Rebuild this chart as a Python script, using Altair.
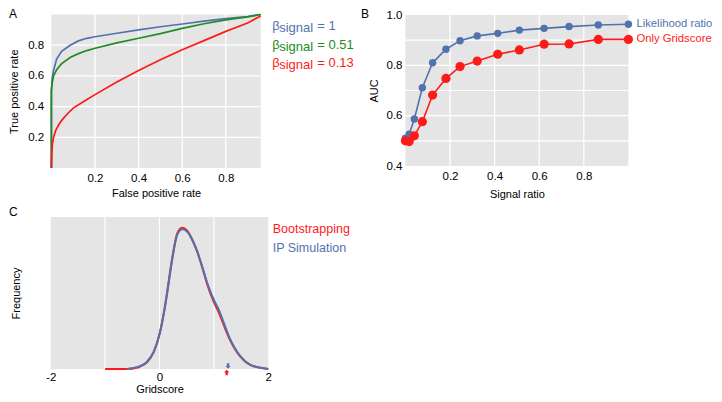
import altair as alt
import pandas as pd

FONT = "Liberation Sans"
BLUE = "#5272AE"
GREEN = "#228B22"
RED = "#FF1A1A"
BG = "#E5E5E5"

# ---------------- Panel A : ROC curves ----------------
roc_fpr_1 = [0, 0, 0.003, 0.009, 0.024, 0.047, 0.086, 0.124, 0.162, 0.2, 0.3, 0.4, 0.5, 0.6, 0.7, 0.8, 0.9, 0.96]
roc_tpr_1 = [0, 0.5, 0.58, 0.63, 0.71, 0.76, 0.80, 0.828, 0.845, 0.855, 0.878, 0.9, 0.92, 0.938, 0.957, 0.973, 0.987, 1.0]
roc_fpr_051 = [0, 0, 0.003, 0.01, 0.024, 0.047, 0.086, 0.124, 0.162, 0.2, 0.3, 0.4, 0.5, 0.6, 0.7, 0.8, 0.9, 0.96]
roc_tpr_051 = [0, 0.5, 0.55, 0.6, 0.64, 0.68, 0.72, 0.745, 0.765, 0.78, 0.815, 0.845, 0.875, 0.91, 0.94, 0.965, 0.985, 1.0]
roc_fpr_013 = [0, 0.002, 0.005, 0.01, 0.02, 0.035, 0.05, 0.075, 0.1, 0.15, 0.2, 0.3, 0.4, 0.5, 0.6, 0.7, 0.8, 0.9, 0.96]
roc_tpr_013 = [0, 0.1, 0.16, 0.2, 0.245, 0.285, 0.315, 0.355, 0.39, 0.435, 0.478, 0.56, 0.635, 0.705, 0.77, 0.83, 0.89, 0.945, 0.99]
roc_beta = ["1", "0.51", "0.13"]
roc_colors = [BLUE, GREEN, RED]
roc_ticks = [0.2, 0.4, 0.6, 0.8]
roc_xdomain = [0, 0.96]
roc_ydomain = [0, 1]

# ---------------- Panel B : AUC vs signal ratio ----------------
signal_ratio = [0, 0.017, 0.04, 0.076, 0.122, 0.182, 0.245, 0.322, 0.414, 0.511, 0.622, 0.734, 0.865, 1.0]
auc_likelihood = [0.51, 0.526, 0.587, 0.711, 0.81, 0.864, 0.898, 0.917, 0.927, 0.94, 0.947, 0.954, 0.96, 0.963]
auc_gridscore = [0.50, 0.497, 0.52, 0.576, 0.682, 0.748, 0.795, 0.817, 0.844, 0.861, 0.884, 0.885, 0.903, 0.903]
auc_names = ["Likelihood ratio", "Only Gridscore"]
auc_xticks = [0.2, 0.4, 0.6, 0.8]
auc_yticks = [0.4, 0.6, 0.8, 1.0]
auc_ygrid = [0.5, 0.6, 0.7, 0.8, 0.9]
auc_xdomain = [0, 1]
auc_ydomain = [0.4, 1.0]

# ---------------- Panel C : Gridscore distributions ----------------
ip_x = [-0.6, -0.35, -0.227, -0.105, 0.006, 0.08, 0.141, 0.203, 0.264, 0.326, 0.418, 0.51, 0.602, 0.694,
        0.786, 0.879, 1.0, 1.093, 1.186, 1.278, 1.37, 1.493, 1.677, 1.923, 2.0]
ip_freq = [0, 0.02, 0.048, 0.114, 0.235, 0.366, 0.498, 0.651, 0.783, 0.882, 0.919, 0.903, 0.849, 0.772,
           0.673, 0.564, 0.454, 0.388, 0.30, 0.213, 0.147, 0.081, 0.026, 0.005, 0]
boot_x = [-1.0, -0.6, -0.4, -0.35, -0.227, -0.105, 0.006, 0.08, 0.141, 0.203, 0.264, 0.326, 0.418, 0.51,
          0.602, 0.694, 0.786, 0.879, 1.0, 1.093, 1.186, 1.278, 1.37, 1.493, 1.677, 1.923, 2.0]
boot_freq = [0, 0, 0.01, 0.018, 0.046, 0.112, 0.238, 0.37, 0.505, 0.66, 0.793, 0.892, 0.93, 0.91,
             0.852, 0.772, 0.668, 0.555, 0.44, 0.37, 0.285, 0.205, 0.142, 0.078, 0.025, 0.004, 0]
observed_gridscore = [1.26, 1.235]  # IP Simulation (blue), Bootstrapping (red)
gs_ticks = [-2, 0, 2]
gs_grid = [-1, 0, 1]
gs_xdomain = [-2, 2]
gs_ydomain = [0, 1]

W = 706  # drawing width (page width minus margins)
H = 386  # drawing height (page height minus margins)


def panel_base(xdomain, ydomain, sx, sy, ax_x, ax_y, xgrid, ygrid):
    bg = alt.Chart(pd.DataFrame({"x0": [xdomain[0]], "x1": [xdomain[1]],
                                 "y0": [ydomain[0]], "y1": [ydomain[1]]})).mark_rect(
        color=BG).encode(
        x=alt.X("x0:Q", scale=sx, axis=ax_x), x2="x1",
        y=alt.Y("y0:Q", scale=sy, axis=ax_y), y2="y1")
    layers = [bg]
    if xgrid:
        layers.append(alt.Chart(pd.DataFrame({"g": xgrid, "y0": ydomain[0], "y1": ydomain[1]})).mark_rule(
            color="white", strokeWidth=1.2).encode(x=alt.X("g:Q", scale=sx), y=alt.Y("y0:Q", scale=sy), y2="y1"))
    if ygrid:
        layers.append(alt.Chart(pd.DataFrame({"g": ygrid, "x0": xdomain[0], "x1": xdomain[1]})).mark_rule(
            color="white", strokeWidth=1.2).encode(y=alt.Y("g:Q", scale=sy), x=alt.X("x0:Q", scale=sx), x2="x1"))
    return layers


# ---- Panel A
sxA = alt.Scale(domain=roc_xdomain, range=[43.4, 252.7], nice=False, zero=False)
syA = alt.Scale(domain=roc_ydomain, range=[160, 6.5], nice=False, zero=False)
axA_x = alt.Axis(orient="bottom", offset=159 - H, values=roc_ticks, format=".1f", title="False positive rate",
                 labelPadding=5, titlePadding=4, labelFlush=False)
axA_y = alt.Axis(orient="left", offset=-43.7, values=roc_ticks, format=".1f", title="True positive rate",
                 labelPadding=8, titlePadding=8)
layersA = panel_base(roc_xdomain, roc_ydomain, sxA, syA, axA_x, axA_y, roc_ticks, roc_ticks)
for fx, ty, col in zip([roc_fpr_1, roc_fpr_051, roc_fpr_013], [roc_tpr_1, roc_tpr_051, roc_tpr_013], roc_colors):
    df = pd.DataFrame({"fpr": fx, "tpr": ty, "o": range(len(fx))})
    layersA.append(alt.Chart(df).mark_line(color=col, strokeWidth=1.7).encode(
        x=alt.X("fpr:Q", scale=sxA), y=alt.Y("tpr:Q", scale=syA), order="o:Q"))
legA_y = [17.7, 36.5, 55.3]
for b, col, yy in zip(roc_beta, roc_colors, legA_y):
    one = pd.DataFrame({"t": ["\u03b2"], "s": ["signal"], "v": ["= " + b]})
    layersA.append(alt.Chart(one).mark_text(color=col, fontSize=13, align="left", baseline="middle").encode(
        text="t:N", x=alt.value(264.3), y=alt.value(yy)))
    layersA.append(alt.Chart(one).mark_text(color=col, fontSize=13, align="left", baseline="middle").encode(
        text="s:N", x=alt.value(271.2), y=alt.value(yy + 2)))
    layersA.append(alt.Chart(one).mark_text(color=col, fontSize=13, align="left", baseline="middle").encode(
        text="v:N", x=alt.value(309.3), y=alt.value(yy)))
panelA = alt.layer(*layersA)

# ---- Panel B
sxB = alt.Scale(domain=auc_xdomain, range=[397.4, 620.4], nice=False, zero=False)
syB = alt.Scale(domain=auc_ydomain, range=[158, 7], nice=False, zero=False)
axB_x = alt.Axis(orient="bottom", offset=158 - H, values=auc_xticks, format=".1f", title="Signal ratio",
                 labelPadding=4, titlePadding=7, labelFlush=False)
axB_y = alt.Axis(orient="left", offset=-397, values=auc_yticks, format=".1f", title="AUC",
                 labelPadding=3, titlePadding=7)
layersB = panel_base(auc_xdomain, auc_ydomain, sxB, syB, axB_x, axB_y, auc_xticks, auc_ygrid)
for vals, col, name, sz in zip([auc_likelihood, auc_gridscore], [BLUE, RED], auc_names, [55, 85]):
    df = pd.DataFrame({"r": signal_ratio, "auc": vals, "name": name})
    layersB.append(alt.Chart(df).mark_line(color=col, strokeWidth=1.6).encode(
        x=alt.X("r:Q", scale=sxB), y=alt.Y("auc:Q", scale=syB)))
    layersB.append(alt.Chart(df).mark_circle(color=col, opacity=1, size=sz).encode(
        x=alt.X("r:Q", scale=sxB), y=alt.Y("auc:Q", scale=syB)))
    layersB.append(alt.Chart(df.tail(1)).mark_text(color=col, fontSize=11.3, align="left", baseline="middle",
                                                   dx=8).encode(
        x=alt.X("r:Q", scale=sxB), y=alt.Y("auc:Q", scale=syB), text="name:N"))
panelB = alt.layer(*layersB)

# ---- Panel C
sxC = alt.Scale(domain=gs_xdomain, range=[42.7, 260.3], nice=False, zero=False)
syC = alt.Scale(domain=gs_ydomain, range=[361, 209], nice=False, zero=False)
axC_x = alt.Axis(orient="bottom", offset=361 - H, values=gs_ticks, labelExpr="'' + datum.value", title="Gridscore",
                 labelPadding=2, titleBaseline="bottom", titleY=25, labelFlush=False)
axC_y = alt.Axis(orient="left", offset=-42.7, labels=False, title="Frequency", titlePadding=29)
layersC = panel_base(gs_xdomain, gs_ydomain, sxC, syC, axC_x, axC_y, gs_grid, None)
for xs, fs, col in zip([boot_x, ip_x], [boot_freq, ip_freq], [RED, BLUE]):
    df = pd.DataFrame({"g": xs, "f": fs})
    layersC.append(alt.Chart(df).mark_line(color=col, strokeWidth=2, interpolate="monotone").encode(
        x=alt.X("g:Q", scale=sxC), y=alt.Y("f:Q", scale=syC)))
down_arrow = "M-0.45,-1L0.45,-1L0.45,0L1,0L0,1L-1,0L-0.45,0Z"
up_arrow = "M-0.45,1L0.45,1L0.45,0L1,0L0,-1L-1,0L-0.45,0Z"
for gx, col, shp, yo in zip(observed_gridscore, [BLUE, RED], [down_arrow, up_arrow], [-3, 3.5]):
    layersC.append(alt.Chart(pd.DataFrame({"g": [gx], "f": [0]})).mark_point(
        shape=shp, filled=True, color=col, opacity=1, size=28, yOffset=yo).encode(
        x=alt.X("g:Q", scale=sxC), y=alt.Y("f:Q", scale=syC)))
legC = pd.DataFrame({"t": ["Bootstrapping", "IP Simulation"]})
layersC.append(alt.Chart(legC.head(1)).mark_text(color=RED, fontSize=12.5, align="left", baseline="middle").encode(
    text="t:N", x=alt.value(264.7), y=alt.value(221.3)))
layersC.append(alt.Chart(legC.tail(1)).mark_text(color=BLUE, fontSize=12.5, align="left", baseline="middle").encode(
    text="t:N", x=alt.value(264.7), y=alt.value(240.3)))
panelC = alt.layer(*layersC)

# ---- Panel letters
letters = pd.DataFrame({"t": ["A", "B", "C"]})
lA = alt.Chart(letters.iloc[[0]]).mark_text(fontSize=12, align="left", baseline="top").encode(
    text="t:N", x=alt.value(1), y=alt.value(1))
lB = alt.Chart(letters.iloc[[1]]).mark_text(fontSize=12, align="left", baseline="top").encode(
    text="t:N", x=alt.value(353), y=alt.value(1))
lC = alt.Chart(letters.iloc[[2]]).mark_text(fontSize=12, align="left", baseline="top").encode(
    text="t:N", x=alt.value(1), y=alt.value(199))

chart = alt.layer(panelA, panelB, panelC, lA, lB, lC).resolve_scale(
    x="independent", y="independent").resolve_axis(x="independent", y="independent").properties(
    width=W, height=H, autosize=alt.AutoSizeParams(type="none"), padding=0
).configure_view(strokeWidth=0).configure_axis(
    grid=False, domain=False, ticks=False, tickSize=0, labelFont=FONT, titleFont=FONT,
    labelFontSize=11.5, titleFontSize=11, titleFontWeight="normal", labelColor="black", titleColor="black"
).configure_text(font=FONT)

chart.save("out.html", embed_options={"renderer": "svg", "actions": False})
